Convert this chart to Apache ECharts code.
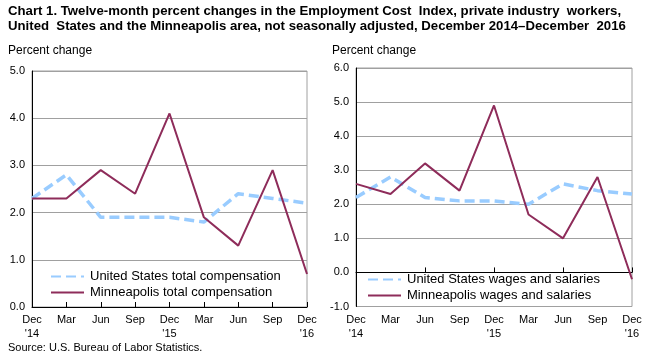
<!DOCTYPE html>
<html>
<head>
<meta charset="utf-8">
<script src="https://cdn.jsdelivr.net/npm/echarts@6/dist/echarts.min.js"></script>
<style>
html,body{margin:0;padding:0;background:#fff;}
#chart{width:651px;height:361px;}
</style>
</head>
<body>
<div id="chart"></div>
<script>
// ---- data ----
var categories = ['Dec 2014','Mar 2015','Jun 2015','Sep 2015','Dec 2015','Mar 2016','Jun 2016','Sep 2016','Dec 2016'];
var tickLabels = ["Dec\n'14","Mar","Jun","Sep","Dec\n'15","Mar","Jun","Sep","Dec\n'16"];
var usTotalComp = [2.3, 2.8, 1.9, 1.9, 1.9, 1.8, 2.4, 2.3, 2.2];
var mplsTotalComp = [2.3, 2.3, 2.9, 2.4, 4.1, 1.9, 1.3, 2.9, 0.7];
var usWages = [2.2, 2.8, 2.2, 2.1, 2.1, 2.0, 2.6, 2.4, 2.3];
var mplsWages = [2.6, 2.3, 3.2, 2.4, 4.9, 1.7, 1.0, 2.8, -0.2];

var FONT = '"Liberation Sans", Arial, sans-serif';
var US_COLOR = '#99CCFF';
var MPLS_COLOR = '#8E2C5A';
var GRID_COLOR = '#A0A0A0';

var chart = echarts.init(document.getElementById('chart'), null, {renderer: 'canvas'});

function yFmt(v){ return v.toFixed(1); }
function xFmt(v, i){ return tickLabels[i]; }

var axisLabelStyle = {color: '#000', fontFamily: FONT, fontSize: 11};
var legendItemStyle = {color: 'rgba(0,0,0,0)', borderWidth: 0, borderColor: 'rgba(0,0,0,0)'};

var option = {
  animation: false,
  backgroundColor: '#fff',
  title: [
    {text: 'Chart 1. Twelve-month percent changes in the Employment Cost  Index, private industry  workers,\nUnited  States and the Minneapolis area, not seasonally adjusted, December 2014\u2013December  2016',
     left: 8, top: 4, padding: 0,
     textStyle: {fontFamily: FONT, fontSize: 13.2, fontWeight: 'bold', color: '#000', lineHeight: 15}},
    {text: 'Percent change', left: 8, top: 45, padding: 0,
     textStyle: {fontFamily: FONT, fontSize: 12, fontWeight: 'normal', color: '#000'}},
    {text: 'Percent change', left: 332, top: 45, padding: 0,
     textStyle: {fontFamily: FONT, fontSize: 12, fontWeight: 'normal', color: '#000'}},
    {text: 'Source: U.S. Bureau of Labor Statistics.', left: 8, top: 342, padding: 0,
     textStyle: {fontFamily: FONT, fontSize: 11, fontWeight: 'normal', color: '#000'}}
  ],
  legend: [
    {orient: 'vertical', left: 50, top: 270, padding: 0, itemWidth: 33, itemHeight: 14, itemGap: 3,
     itemStyle: legendItemStyle,
     data: ['United States total compensation', 'Minneapolis total compensation'],
     textStyle: {fontFamily: FONT, fontSize: 13, color: '#000', padding: [0,0,0,1]}},
    {orient: 'vertical', left: 367, top: 273, padding: 0, itemWidth: 33, itemHeight: 14, itemGap: 3,
     itemStyle: legendItemStyle,
     data: ['United States wages and salaries', 'Minneapolis wages and salaries'],
     textStyle: {fontFamily: FONT, fontSize: 13, color: '#000', padding: [0,0,0,1]}}
  ],
  grid: [
    {left: 32, top: 71, width: 275, height: 236, show: true, borderColor: GRID_COLOR, borderWidth: 1, backgroundColor: 'transparent'},
    {left: 356, top: 68, width: 276, height: 238.5, show: true, borderColor: GRID_COLOR, borderWidth: 1, backgroundColor: 'transparent'}
  ],
  xAxis: [
    {type: 'category', gridIndex: 0, data: categories, boundaryGap: false, position: 'bottom',
     axisLine: {show: true, lineStyle: {color: '#000', width: 1}},
     axisTick: {show: true, inside: true, length: 5, lineStyle: {color: '#000'}},
     axisLabel: Object.assign({formatter: xFmt, interval: 0, margin: 6, lineHeight: 14}, axisLabelStyle),
     splitLine: {show: false}},
    {type: 'category', gridIndex: 1, data: categories, boundaryGap: false, position: 'bottom',
     axisLine: {show: true, onZero: true, lineStyle: {color: '#000', width: 1}},
     axisTick: {show: true, inside: true, length: 5, lineStyle: {color: '#000'}},
     axisLabel: {show: false},
     splitLine: {show: false}},
    {type: 'category', gridIndex: 1, data: categories, boundaryGap: false, position: 'bottom',
     axisLine: {show: false, onZero: false},
     axisTick: {show: false},
     axisLabel: Object.assign({formatter: xFmt, interval: 0, margin: 6, lineHeight: 14}, axisLabelStyle),
     splitLine: {show: false}}
  ],
  yAxis: [
    {type: 'value', gridIndex: 0, min: 0, max: 5, interval: 1,
     axisLine: {show: true, lineStyle: {color: '#000'}},
     axisTick: {show: false},
     axisLabel: Object.assign({formatter: yFmt, margin: 7}, axisLabelStyle),
     splitLine: {show: true, lineStyle: {color: GRID_COLOR, width: 1}}},
    {type: 'value', gridIndex: 1, min: -1, max: 6, interval: 1,
     axisLine: {show: true, lineStyle: {color: '#000'}},
     axisTick: {show: false},
     axisLabel: Object.assign({formatter: yFmt, margin: 7}, axisLabelStyle),
     splitLine: {show: true, lineStyle: {color: GRID_COLOR, width: 1}}}
  ],
  series: [
    {name: 'United States total compensation', type: 'line', xAxisIndex: 0, yAxisIndex: 0, data: usTotalComp,
     symbol: 'none', lineStyle: {color: US_COLOR, width: 3.5, type: [10, 5]}, itemStyle: {color: US_COLOR}, z: 2},
    {name: 'Minneapolis total compensation', type: 'line', xAxisIndex: 0, yAxisIndex: 0, data: mplsTotalComp,
     symbol: 'none', lineStyle: {color: MPLS_COLOR, width: 2}, itemStyle: {color: MPLS_COLOR}, z: 3},
    {name: 'United States wages and salaries', type: 'line', xAxisIndex: 1, yAxisIndex: 1, data: usWages,
     symbol: 'none', lineStyle: {color: US_COLOR, width: 3.5, type: [10, 5]}, itemStyle: {color: US_COLOR}, z: 2},
    {name: 'Minneapolis wages and salaries', type: 'line', xAxisIndex: 1, yAxisIndex: 1, data: mplsWages,
     symbol: 'none', lineStyle: {color: MPLS_COLOR, width: 2}, itemStyle: {color: MPLS_COLOR}, z: 3}
  ]
};
chart.setOption(option);
</script>
</body>
</html>
